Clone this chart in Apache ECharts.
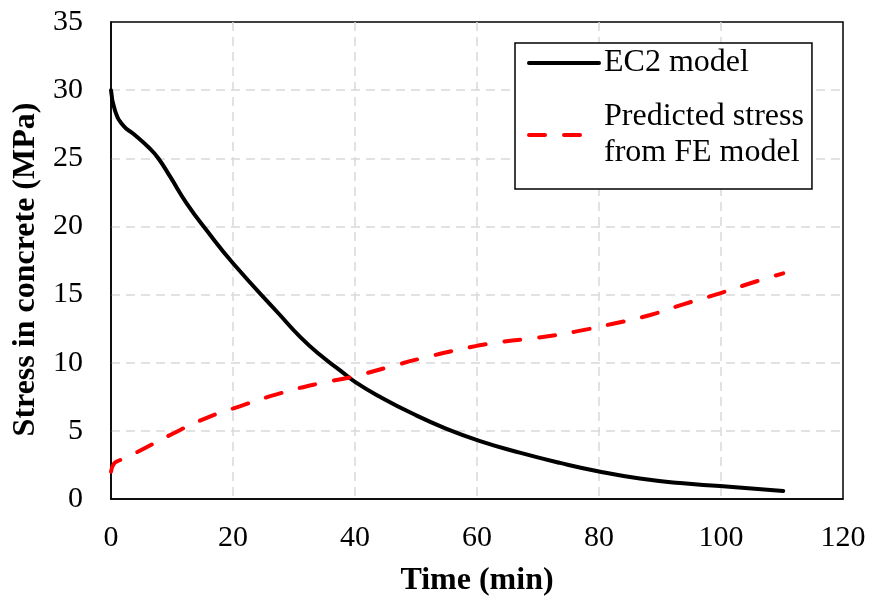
<!DOCTYPE html>
<html>
<head>
<meta charset="utf-8">
<script src="https://cdn.jsdelivr.net/npm/echarts@6/dist/echarts.min.js"></script>
<style>html,body{margin:0;padding:0;background:#fff}#c{width:873px;height:603px}</style>
</head>
<body>
<div id="c"></div>
<script>
const xTicks = [0, 20, 40, 60, 80, 100, 120];
const yTicks = [0, 5, 10, 15, 20, 25, 30, 35];

const ec2Name = 'EC2 model';
const ec2Time = [0, 0.66, 2.0, 3.66, 6.4, 7.75, 9.7, 12.4, 15.7, 20, 27.7, 31, 34.3, 37.5, 40, 44.1, 49.5, 55, 60.5, 67, 73.6, 80.2, 86.7, 93.3, 99.8, 110.2];
const ec2Stress = [30, 28.5, 27.4, 26.8, 25.7, 25.0, 23.65, 21.7, 19.7, 17.3, 13.5, 11.9, 10.56, 9.46, 8.6, 7.5, 6.25, 5.15, 4.25, 3.4, 2.65, 2.0, 1.5, 1.17, 0.95, 0.59];

const feName = 'Predicted stress\nfrom FE model';
const feTime = [0, 0.5, 1.5, 4.4, 9.7, 15.4, 21.1, 27.7, 34.3, 39.2, 45.7, 50.7, 59, 64.3, 70, 76.1, 82.1, 88.4, 93.8, 99.8, 105.6, 110.2];
const feStress = [2.0, 2.6, 2.86, 3.47, 4.7, 5.9, 6.8, 7.75, 8.5, 8.93, 9.7, 10.3, 11.15, 11.54, 11.84, 12.28, 12.84, 13.5, 14.28, 15.09, 15.94, 16.56];

const pairs = (xs, ys) => xs.map((x, i) => [x, ys[i]]);
const font = 'Liberation Serif';
const grid = {color: '#d9d9d9', width: 1.5, type: [9, 6]};

const chart = echarts.init(document.getElementById('c'), null, {renderer: 'canvas'});
chart.setOption({
  animation: false,
  backgroundColor: '#fff',
  grid: {left: 111, right: 30, top: 22, bottom: 104, show: true, borderColor: '#000', borderWidth: 1.5, backgroundColor: 'transparent'},
  xAxis: {
    type: 'value', min: xTicks[0], max: xTicks[xTicks.length - 1], interval: 20,
    name: 'Time (min)', nameLocation: 'middle', nameGap: 66,
    nameTextStyle: {fontFamily: font, fontSize: 32, fontWeight: 'bold', color: '#000'},
    axisLine: {show: true, lineStyle: {color: '#000', width: 1.5}},
    axisTick: {show: false},
    axisLabel: {fontFamily: font, fontSize: 30, color: '#000', margin: 24},
    splitLine: {show: true, showMinLine: false, showMaxLine: false, lineStyle: grid}
  },
  yAxis: {
    type: 'value', min: yTicks[0], max: yTicks[yTicks.length - 1], interval: 5,
    name: 'Stress in concrete (MPa)', nameLocation: 'middle', nameGap: 68,
    nameTextStyle: {fontFamily: font, fontSize: 32, fontWeight: 'bold', color: '#000', padding: [0, 18, 0, 0]},
    axisLine: {show: true, lineStyle: {color: '#000', width: 1.5}},
    axisTick: {show: false},
    axisLabel: {fontFamily: font, fontSize: 30, color: '#000', margin: 28, padding: [3, 0, 0, 0]},
    splitLine: {show: true, showMinLine: false, showMaxLine: false, lineStyle: grid}
  },
  legend: {
    orient: 'vertical', left: 515, top: 43,
    padding: [2, 8, 0, 12], itemGap: 0,
    itemWidth: 70, itemHeight: 14,
    backgroundColor: '#fff', borderColor: '#000', borderWidth: 1.5,
    lineStyle: {width: 4, cap: 'round'},
    itemStyle: {opacity: 0},
    textStyle: {fontFamily: font, fontSize: 32, color: '#000', lineHeight: 36},
    data: [
      {name: ec2Name},
      {name: feName, textStyle: {padding: [36, 0, 0, 0]}}
    ]
  },
  series: [
    {
      name: ec2Name, type: 'line', smooth: 0.5, symbol: 'none',
      data: pairs(ec2Time, ec2Stress),
      lineStyle: {color: '#000', width: 4, cap: 'round'},
      itemStyle: {color: '#000'}
    },
    {
      name: feName, type: 'line', smooth: 0.5, symbol: 'none',
      data: pairs(feTime, feStress),
      lineStyle: {color: '#ff0000', width: 4, type: [16, 19], cap: 'round'},
      itemStyle: {color: '#ff0000'}
    }
  ]
});
</script>
</body>
</html>
